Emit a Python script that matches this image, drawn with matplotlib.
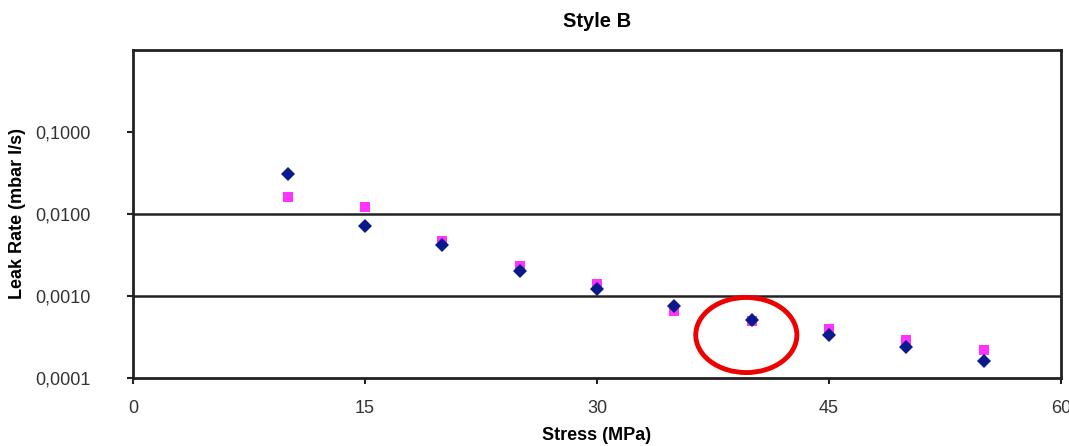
import numpy as np
import matplotlib
matplotlib.use("Agg")
import matplotlib.pyplot as plt
from matplotlib.patches import Ellipse
from matplotlib.ticker import FixedLocator, FixedFormatter, NullLocator

plt.rcParams['font.family'] = ['Liberation Sans', 'DejaVu Sans']

# data
stress = [10, 15, 20, 25, 30, 35, 40, 45, 50, 55]
leak_navy = [0.031, 0.0071, 0.0042, 0.0020, 0.0012, 0.00075, 0.00051, 0.00033, 0.00024, 0.00016]
leak_pink = [0.016, 0.0122, 0.0047, 0.0023, 0.0014, 0.00066, 0.00050, 0.00040, 0.00029, 0.00022]
y_ticks = [0.0001, 0.001, 0.01, 0.1]
y_labels = ['0,0001', '0,0010', '0,0100', '0,1000']
x_ticks = [0, 15, 30, 45, 60]

fig = plt.figure(figsize=(10.69, 4.46), dpi=100)
ax = fig.add_axes([0.1244, 0.1525, 0.868, 0.7355])

ax.plot(stress, leak_pink, linestyle='none', marker='s', markersize=7.5,
        color='#FF33FF', markeredgewidth=0, zorder=3)
ax.plot(stress, leak_navy, linestyle='none', marker='D', markersize=7,
        color='#0A1A8C', markeredgewidth=0, zorder=4)

ax.set_yscale('log')
ax.set_ylim(0.0001, 1.0)
ax.set_xlim(0, 60)
ax.yaxis.set_major_locator(FixedLocator(y_ticks))
ax.yaxis.set_major_formatter(FixedFormatter(y_labels))
ax.yaxis.set_minor_locator(NullLocator())
ax.set_xticks(x_ticks)

# only the two middle decades carry gridlines
for g in [0.01, 0.001]:
    ax.axhline(g, color='#222222', linewidth=1.8, zorder=1)

for s in ax.spines.values():
    s.set_linewidth(2)
    s.set_color('#222222')
ax.tick_params(axis='both', direction='out', length=4.5, width=1.5,
               labelsize=13, labelcolor='#333333', color='#222222')
ax.tick_params(axis='y', pad=26)
ax.tick_params(axis='x', pad=11)

ax.set_title('Style B', fontsize=14.5, fontweight='bold', y=1.07, pad=0)
ax.set_xlabel('Stress (MPa)', fontsize=13, fontweight='bold', va='center')
ax.set_ylabel('Leak Rate (mbar l/s)', fontsize=13, fontweight='bold', va='center')
ax.xaxis.set_label_coords(0.5, -0.174)
ax.yaxis.set_label_coords(-0.124, 0.5)

ell = Ellipse((0.661, 0.131), 0.109, 0.229, transform=ax.transAxes,
              fill=False, edgecolor='#EE0000', linewidth=3.5, zorder=5)
ax.add_patch(ell)

fig.savefig('out.png', dpi=100)
